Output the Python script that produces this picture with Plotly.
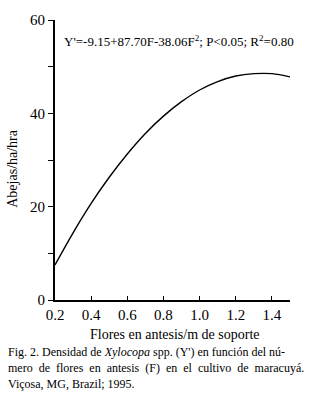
import plotly.graph_objects as go

# Data
flores = [0.2, 0.3, 0.4, 0.5, 0.6, 0.7, 0.8, 0.9, 1.0, 1.1, 1.2, 1.3, 1.4, 1.5]
abejas = [7.5, 14.4, 20.7, 26.3, 31.3, 35.7, 39.4, 42.5, 45.0, 46.8, 48.0, 48.5, 48.5, 47.8]

x_ticks = [0.2, 0.4, 0.6, 0.8, 1.0, 1.2, 1.4]
x_ticklabels = ["0.2", "0.4", "0.6", "0.8", "1.0", "1.2", "1.4"]
y_ticks = [0, 20, 40, 60]
y_ticklabels = ["0", "20", "40", "60"]
y_minor_ticks = [10, 30, 50]

equation = "Y'=-9.15+87.70F-38.06F<sup>2</sup>; P<0.05; R<sup>2</sup>=0.80"
x_title = "Flores en antesis/m de soporte"
y_title = "Abejas/ha/hra"
caption_lines = [
    "Fig. 2. Densidad de <i>Xylocopa</i> spp. (Y') en función del nú-",
    "mero&nbsp; de&nbsp; flores&nbsp; en&nbsp; antesis&nbsp; (F)&nbsp; en&nbsp; el&nbsp; cultivo&nbsp; de&nbsp; maracuyá.",
    "Viçosa, MG, Brazil; 1995.",
]

FONT = "Liberation Serif, DejaVu Serif, serif"

fig = go.Figure()
fig.add_trace(go.Scatter(x=flores, y=abejas, mode="lines",
                         line=dict(color="black", width=1.4, shape="spline"),
                         hoverinfo="skip"))

L, R, T, B = 55, 26, 12, 107
W, H = 316, 407
pw = W - L - R
ph = H - T - B

def px(x):
    return (x - L) / pw

def py(y):
    return (H - B - y) / ph

annotations = [
    dict(text=equation, x=px(62), y=py(34), xref="paper", yref="paper",
         xanchor="left", yanchor="middle", showarrow=False,
         font=dict(family=FONT, size=13, color="black")),
    dict(text=x_title, x=px(175), y=py(335), xref="paper", yref="paper",
         xanchor="center", yanchor="middle", showarrow=False,
         font=dict(family=FONT, size=14, color="black")),
    dict(text=y_title, x=px(13), y=py(165), xref="paper", yref="paper",
         xanchor="center", yanchor="middle", showarrow=False, textangle=-90,
         font=dict(family=FONT, size=14, color="black")),
]
for line, yy in zip(caption_lines, [353, 370, 386]):
    annotations.append(dict(text=line, x=px(6), y=py(yy), xref="paper", yref="paper",
                            xanchor="left", yanchor="middle", showarrow=False,
                            font=dict(family=FONT, size=12, color="black")))

fig.update_layout(
    width=W, height=H,
    margin=dict(l=L, r=R, t=T, b=B),
    paper_bgcolor="white", plot_bgcolor="white",
    showlegend=False,
    annotations=annotations,
    xaxis=dict(range=[0.2, 1.5], tickvals=x_ticks, ticktext=x_ticklabels,
               ticks="inside", ticklen=4, tickcolor="black", tickwidth=1,
               showline=True, linecolor="black", linewidth=1.5,
               showgrid=False, zeroline=False,
               tickfont=dict(family=FONT, size=15, color="black")),
    yaxis=dict(range=[0, 60], tickvals=y_ticks, ticktext=y_ticklabels,
               ticks="outside", ticklen=5, tickcolor="black", tickwidth=1,
               minor=dict(tickvals=y_minor_ticks, ticks="outside", ticklen=5,
                          tickcolor="black", tickwidth=1, showgrid=False),
               showline=True, linecolor="black", linewidth=2,
               showgrid=False, zeroline=False,
               tickfont=dict(family=FONT, size=15, color="black")),
)

fig.write_html("out.html")
